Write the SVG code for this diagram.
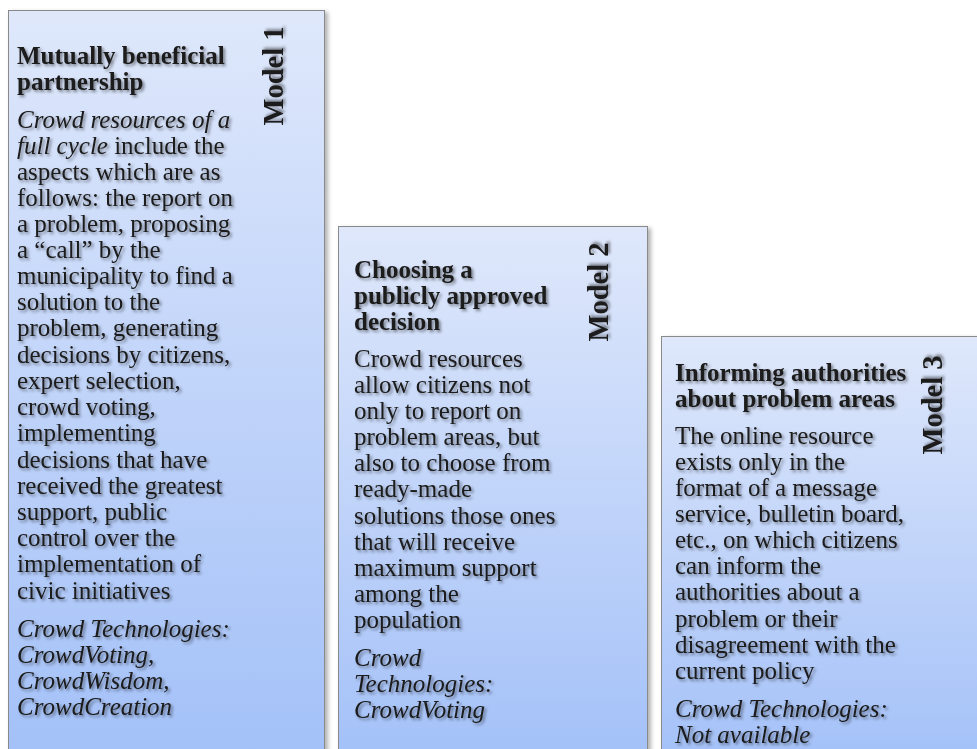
<svg xmlns="http://www.w3.org/2000/svg" width="977" height="749" viewBox="0 0 977 749">
  <defs>
    <linearGradient id="boxFill" x1="0" y1="0" x2="0" y2="1">
      <stop offset="0" stop-color="#dfe8fb"/>
      <stop offset="1" stop-color="#a2c0f8"/>
    </linearGradient>
    <filter id="boxShadow" x="-5%" y="-5%" width="115%" height="115%">
      <feDropShadow dx="3" dy="2" stdDeviation="2" flood-color="#000" flood-opacity="0.3"/>
    </filter>
    <filter id="textShadow" x="-5%" y="-5%" width="115%" height="115%">
      <feDropShadow dx="2" dy="2" stdDeviation="1.4" flood-color="#000" flood-opacity="0.45"/>
    </filter>
  </defs>
  <style>
    .box { fill: url(#boxFill); stroke: #8a8a8a; stroke-width: 1; filter: url(#boxShadow); }
    .txt { font-family: "Liberation Serif", "Times New Roman", serif; font-size: 25px; fill: #1a1a1a; filter: url(#textShadow); }
    .title { font-weight: bold; }
    .it { font-style: italic; }
    .model { font-family: "Liberation Serif", "Times New Roman", serif; font-size: 28.5px; font-weight: bold; fill: #1a1a1a; text-anchor: middle; filter: url(#textShadow); }
  </style>

  <rect width="977" height="749" fill="#ffffff"/>

  <!-- Model 1 -->
  <g id="model1">
    <rect class="box" x="8.5" y="10.5" width="316" height="760"/>
    <text class="model" transform="translate(283 76) rotate(-90)">Model 1</text>
    <g class="txt">
      <text class="title" x="17" y="64">Mutually beneficial</text>
      <text class="title" x="17" y="90">partnership</text>
      <text x="17" y="128"><tspan class="it">Crowd resources of a</tspan></text>
      <text x="17" y="154"><tspan class="it">full cycle</tspan> include the</text>
      <text x="17" y="180">aspects which are as</text>
      <text x="17" y="206">follows: the report on</text>
      <text x="17" y="232">a problem, proposing</text>
      <text x="17" y="258">a “call” by the</text>
      <text x="17" y="284">municipality to find a</text>
      <text x="17" y="310">solution to the</text>
      <text x="17" y="336">problem, generating</text>
      <text x="17" y="363">decisions by citizens,</text>
      <text x="17" y="389">expert selection,</text>
      <text x="17" y="415">crowd voting,</text>
      <text x="17" y="441">implementing</text>
      <text x="17" y="468">decisions that have</text>
      <text x="17" y="494">received the greatest</text>
      <text x="17" y="520">support, public</text>
      <text x="17" y="546">control over the</text>
      <text x="17" y="572">implementation of</text>
      <text x="17" y="599">civic initiatives</text>
      <text class="it" x="17" y="637">Crowd Technologies:</text>
      <text class="it" x="17" y="663">CrowdVoting,</text>
      <text class="it" x="17" y="689">CrowdWisdom,</text>
      <text class="it" x="17" y="715">CrowdCreation</text>
    </g>
  </g>

  <!-- Model 2 -->
  <g id="model2">
    <rect class="box" x="338.5" y="226.5" width="309" height="544"/>
    <text class="model" transform="translate(608 292) rotate(-90)">Model 2</text>
    <g class="txt">
      <text class="title" x="354" y="278">Choosing a</text>
      <text class="title" x="354" y="304">publicly approved</text>
      <text class="title" x="354" y="330">decision</text>
      <text x="354" y="367">Crowd resources</text>
      <text x="354" y="393">allow citizens not</text>
      <text x="354" y="419">only to report on</text>
      <text x="354" y="445">problem areas, but</text>
      <text x="354" y="471">also to choose from</text>
      <text x="354" y="497">ready-made</text>
      <text x="354" y="524">solutions those ones</text>
      <text x="354" y="550">that will receive</text>
      <text x="354" y="576">maximum support</text>
      <text x="354" y="602">among the</text>
      <text x="354" y="628">population</text>
      <text class="it" x="354" y="666">Crowd</text>
      <text class="it" x="354" y="692">Technologies:</text>
      <text class="it" x="354" y="718">CrowdVoting</text>
    </g>
  </g>

  <!-- Model 3 -->
  <g id="model3">
    <rect class="box" x="661.5" y="336.5" width="330" height="434"/>
    <text class="model" transform="translate(942 405) rotate(-90)">Model 3</text>
    <g class="txt">
      <text class="title" x="675" y="381">Informing authorities</text>
      <text class="title" x="675" y="407">about problem areas</text>
      <text x="675" y="444">The online resource</text>
      <text x="675" y="470">exists only in the</text>
      <text x="675" y="496">format of a message</text>
      <text x="675" y="522">service, bulletin board,</text>
      <text x="675" y="548">etc., on which citizens</text>
      <text x="675" y="574">can inform the</text>
      <text x="675" y="600">authorities about a</text>
      <text x="675" y="627">problem or their</text>
      <text x="675" y="653">disagreement with the</text>
      <text x="675" y="679">current policy</text>
      <text class="it" x="675" y="717">Crowd Technologies:</text>
      <text class="it" x="675" y="743">Not available</text>
    </g>
  </g>
</svg>
